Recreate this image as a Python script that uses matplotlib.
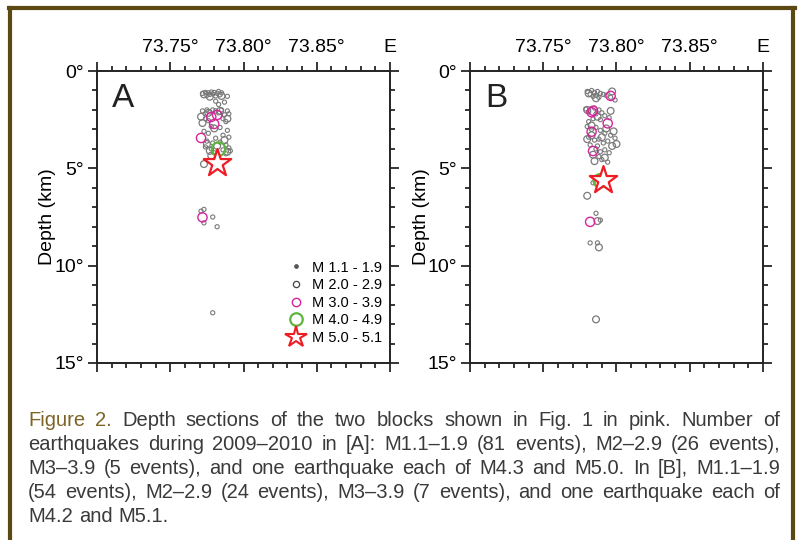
import matplotlib.pyplot as plt
from matplotlib.lines import Line2D

plt.rcParams['font.family'] = ['Liberation Sans', 'DejaVu Sans']

# block A, lon (deg E) and depth (km) per magnitude class
a_m1_lon = [73.772, 73.774, 73.775, 73.776, 73.777, 73.778, 73.779, 73.780, 73.781, 73.782,
            73.783, 73.784, 73.785, 73.789, 73.781, 73.783, 73.787,
            73.772, 73.774, 73.775, 73.777, 73.779, 73.781, 73.783, 73.785, 73.787, 73.789,
            73.790, 73.774, 73.786, 73.788, 73.776,
            73.778, 73.784, 73.789, 73.776, 73.786, 73.781, 73.790, 73.773,
            73.775, 73.779, 73.784, 73.788, 73.774, 73.778, 73.786, 73.790, 73.780, 73.788, 73.791,
            73.773, 73.771, 73.773, 73.779, 73.782, 73.779]
a_m1_dep = [1.15, 1.10, 1.25, 1.12, 1.20, 1.08, 1.18, 1.10, 1.28, 1.15,
            1.05, 1.22, 1.12, 1.30, 1.55, 1.72, 1.60,
            2.05, 2.20, 2.00, 2.10, 2.00, 2.05, 2.15, 2.00, 2.25, 2.05,
            2.20, 2.45, 2.45, 2.60, 2.55,
            2.85, 2.90, 3.05, 3.20, 3.30, 3.45, 3.40, 3.10,
            3.60, 3.70, 3.65, 3.80, 3.90, 4.00, 4.05, 3.95, 4.20, 4.25, 4.10,
            7.11, 7.20, 7.80, 7.50, 8.00, 12.42]
a_m2_lon = [73.785, 73.773, 73.777, 73.772, 73.776, 73.784, 73.789, 73.780, 73.787,
            73.775, 73.782, 73.789, 73.777, 73.773, 73.778, 73.771]
a_m2_dep = [1.28, 1.20, 1.32, 2.67, 2.15, 2.05, 2.45, 2.95, 3.55,
            3.75, 3.85, 4.15, 4.10, 4.78, 4.35, 2.35]
a_m3_lon = [73.778, 73.782, 73.780, 73.771, 73.772]
a_m3_dep = [2.36, 2.26, 2.72, 3.44, 7.52]
a_m4_lon = [73.783]
a_m4_dep = [4.01]
a_m5_lon = [73.782]
a_m5_dep = [4.71]

# block B
b_m1_lon = [73.780, 73.782, 73.783, 73.784, 73.785, 73.786, 73.787, 73.788, 73.789, 73.791,
            73.793, 73.796, 73.799,
            73.779, 73.781, 73.785, 73.786, 73.788, 73.790, 73.792, 73.784, 73.789, 73.795, 73.781,
            73.780, 73.783, 73.786, 73.789, 73.792, 73.796, 73.799, 73.781, 73.785, 73.788,
            73.791, 73.794, 73.782, 73.787,
            73.786, 73.789, 73.792, 73.795, 73.788, 73.794, 73.790,
            73.784, 73.786, 73.789, 73.782, 73.787]
b_m1_dep = [1.05, 1.20, 1.00, 1.30, 1.10, 1.25, 1.05, 1.35, 1.15, 1.20,
            1.25, 1.35, 1.49,
            1.95, 2.10, 1.90, 2.20, 2.00, 2.15, 2.30, 2.45, 2.50, 2.40, 2.60,
            2.85, 3.00, 2.90, 3.05, 3.20, 3.30, 3.45, 3.40, 3.55, 3.50,
            3.70, 3.60, 3.80, 3.85,
            4.00, 4.15, 4.05, 4.20, 4.40, 4.68, 4.55,
            5.74, 7.31, 7.66, 8.83, 8.83]
b_m2_lon = [73.781, 73.786, 73.797, 73.780, 73.787, 73.796, 73.783, 73.793, 73.798, 73.780,
            73.790, 73.797, 73.784, 73.792, 73.785, 73.780, 73.787, 73.788, 73.786, 73.800, 73.783]
b_m2_dep = [1.15, 1.40, 1.05, 2.00, 2.35, 2.05, 2.80, 2.95, 3.10, 3.50,
            3.40, 3.85, 4.30, 4.45, 4.63, 6.41, 7.71, 9.06, 12.76, 3.75, 3.30]
b_m3_lon = [73.796, 73.783, 73.784, 73.794, 73.783, 73.784, 73.782]
b_m3_dep = [1.28, 2.12, 2.04, 2.69, 3.12, 4.11, 7.75]
b_m4_lon = [73.789]
b_m4_dep = [5.64]
b_m5_lon = [73.791]
b_m5_dep = [5.60]

classes = ["M 1.1 - 1.9", "M 2.0 - 2.9", "M 3.0 - 3.9", "M 4.0 - 4.9", "M 5.0 - 5.1"]
x_ticks = [73.70, 73.75, 73.80, 73.85, 73.90]
x_labels = ["", "73.75°", "73.80°", "73.85°", "E"]
y_ticks = [0, 5, 10, 15]
y_labels = ["0°", "5°", "10°", "15°"]

caption = [
    "Depth sections of the two blocks shown in Fig. 1 in pink. Number of",
    "earthquakes during 2009–2010 in [A]: M1.1–1.9 (81 events), M2–2.9 (26 events),",
    "M3–3.9 (5 events), and one earthquake each of M4.3 and M5.0. In [B], M1.1–1.9",
    "(54 events), M2–2.9 (24 events), M3–3.9 (7 events), and one earthquake each of",
    "M4.2 and M5.1.",
]

gray = "#7a7a7a"
magenta = "#d8249c"
green = "#5db53c"
red = "#ee1c24"

fig = plt.figure(figsize=(8, 5.4), dpi=100)


def panel(left, name, d, lpad):
    ax = fig.add_axes([left, 0.3278, 0.36625, 0.5407])
    ax.scatter(d[0], d[1], s=9, facecolors="none", edgecolors=gray, linewidths=0.8)
    ax.scatter(d[2], d[3], s=24, facecolors="none", edgecolors=gray, linewidths=0.9)
    ax.scatter(d[4], d[5], s=44, facecolors="none", edgecolors=magenta, linewidths=1.0)
    ax.scatter(d[6], d[7], s=95, facecolors="none", edgecolors=green, linewidths=1.6)
    ax.scatter(d[8], d[9], s=430, marker="*", facecolors="white", edgecolors=red, linewidths=1.6)
    ax.set_xlim(73.70, 73.90)
    ax.set_ylim(15, 0)
    ax.set_xticks(x_ticks)
    ax.set_xticklabels(x_labels)
    ax.set_xticks([73.70 + 0.01 * i for i in range(21)], minor=True)
    ax.set_yticks(y_ticks)
    ax.set_yticklabels(y_labels)
    ax.set_yticks(range(16), minor=True)
    ax.tick_params(axis="x", which="both", top=True, bottom=True, labeltop=True,
                   labelbottom=False, direction="out", width=1.1)
    ax.tick_params(axis="y", which="both", left=True, right=True, direction="out", width=1.1)
    ax.tick_params(which="major", length=6.5, labelsize=14, pad=3)
    ax.tick_params(which="minor", length=3.3)
    ax.tick_params(axis="x", which="major", pad=4)
    for sp in ax.spines.values():
        sp.set_linewidth(1.4)
        sp.set_color("#222222")
    ax.set_ylabel("Depth (km)", fontsize=14, labelpad=lpad)
    ax.text(0.089, 0.906, name, transform=ax.transAxes, fontsize=24,
            ha="center", va="center", color="#222222")
    return ax


axA = panel(0.12125, "A", [a_m1_lon, a_m1_dep, a_m2_lon, a_m2_dep, a_m3_lon, a_m3_dep,
                           a_m4_lon, a_m4_dep, a_m5_lon, a_m5_dep], -1.5)
axB = panel(0.5875, "B", [b_m1_lon, b_m1_dep, b_m2_lon, b_m2_dep, b_m3_lon, b_m3_dep,
                          b_m4_lon, b_m4_dep, b_m5_lon, b_m5_dep], -2)

handles = [
    Line2D([], [], ls="none", marker="o", ms=2.4, mfc="#555555", mec="#555555"),
    Line2D([], [], ls="none", marker="o", ms=4.5, mfc="none", mec="#444444", mew=0.9),
    Line2D([], [], ls="none", marker="o", ms=6, mfc="none", mec=magenta, mew=1.0),
    Line2D([], [], ls="none", marker="o", ms=9, mfc="none", mec=green, mew=1.6),
    Line2D([], [], ls="none", marker="*", ms=16, mfc="white", mec=red, mew=1.5),
]
axA.legend(handles, classes, loc="center left", bbox_to_anchor=(0.642, 0.206),
           frameon=False, fontsize=10.5, borderpad=0, handlelength=1.5,
           handletextpad=0.35, labelspacing=0.25, borderaxespad=0)

# caption, justified line by line
fig.canvas.draw()
r = fig.canvas.get_renderer()
x0, x1 = 28 / 800, 780 / 800
ys = [420.7, 445, 469, 492.3, 516]
fs = 14.5
for i, line in enumerate(caption):
    words = line.split(" ")
    if i == 0:
        words = ["Figure", "2."] + words
    y = 1 - ys[i] / 540
    arts = []
    for j, w in enumerate(words):
        c = "#7d6426" if (i == 0 and j < 2) else "#3a3a3a"
        arts.append(fig.text(x0, y, w, fontsize=fs, color=c, va="center"))
    widths = [t.get_window_extent(r).width / 800 for t in arts]
    if i < len(caption) - 1:
        gap = (x1 - x0 - sum(widths)) / (len(words) - 1)
    else:
        gap = 0.3 * fs / 72 * 100 / 800
    x = x0
    for t, w in zip(arts, widths):
        t.set_x(x)
        x += w + gap

# brown frame round the figure
fc = "#5b4813"
fig.add_artist(Line2D([0.0125, 0.0125], [0, 1 - 8 / 540], color=fc, lw=3))
fig.add_artist(Line2D([0.9916, 0.9916], [0, 1 - 8 / 540], color=fc, lw=3))
fig.add_artist(Line2D([0.0107, 0.9934], [1 - 8 / 540, 1 - 8 / 540], color=fc, lw=3))

fig.savefig("out.png", dpi=100)
